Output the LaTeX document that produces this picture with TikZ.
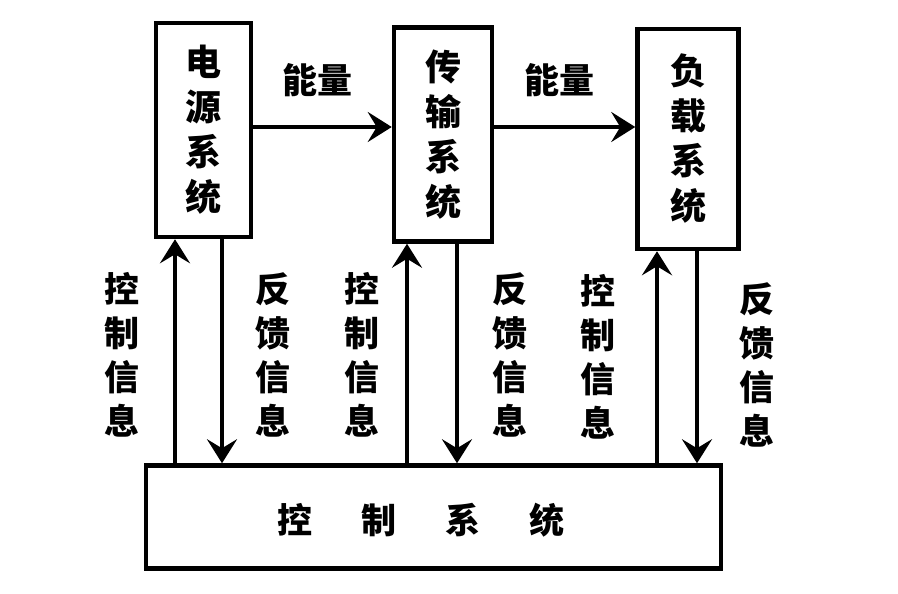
\documentclass[tikz,border=0pt]{standalone}
\usepackage{fontspec}
\setmainfont{Noto Sans CJK SC}
\usetikzlibrary{arrows.meta}
\begin{document}
\begin{tikzpicture}[x=1pt,y=-1pt,
  box/.style={draw,line width=4.5pt,inner sep=0pt,align=center,
    font=\fontsize{36}{45}\selectfont\bfseries},
  lbl/.style={inner sep=0pt,align=center,font=\fontsize{35}{44}\selectfont\bfseries},
  arr/.style={line width=4pt,-{Stealth[length=24pt,width=30pt,inset=9pt]}}]
\useasboundingbox (0,0) rectangle (898,594);
\node[box,minimum width=95pt,minimum height=214pt] (b1) at (203.5,130) {电\\源\\系\\统};
\node[box,minimum width=98pt,minimum height=214pt] (b2) at (443,134.5) {传\\输\\系\\统};
\node[box,minimum width=101pt,minimum height=220pt] (b3) at (688,139) {负\\载\\系\\统};
\node[box,minimum width=575pt,minimum height=103pt] (ctrl) at (433.5,517) {};
\node[lbl] (ct) at (421,520) {控\hspace{49pt}制\hspace{49pt}系\hspace{49pt}统};
% energy arrows
\coordinate (ey) at (0,127);
\draw[arr] (b1.east |- ey) -- (b2.west |- ey);
\draw[arr] (b2.east |- ey) -- (b3.west |- ey);
\node[lbl] (e1) at (317,80) {能量};
\node[lbl] (e2) at (559,80) {能量};
% vertical arrows
\coordinate (u1) at (175,0);
\coordinate (d1) at (222,0);
\coordinate (u2) at (407,0);
\coordinate (d2) at (457,0);
\coordinate (u3) at (657,0);
\coordinate (d3) at (697,0);
\draw[arr] (u1 |- ctrl.north) -- (u1 |- b1.south);
\draw[arr] (d1 |- b1.south) -- (d1 |- ctrl.north);
\draw[arr] (u2 |- ctrl.north) -- (u2 |- b2.south);
\draw[arr] (d2 |- b2.south) -- (d2 |- ctrl.north);
\draw[arr] (u3 |- ctrl.north) -- (u3 |- b3.south);
\draw[arr] (d3 |- b3.south) -- (d3 |- ctrl.north);
% labels
\node[lbl] (k1) at (122,355) {控\\制\\信\\息};
\node[lbl] (f1) at (273,355) {反\\馈\\信\\息};
\node[lbl] (k2) at (362,355) {控\\制\\信\\息};
\node[lbl] (f2) at (510,355) {反\\馈\\信\\息};
\node[lbl] (k3) at (598,357) {控\\制\\信\\息};
\node[lbl] (f3) at (757,365) {反\\馈\\信\\息};
\end{tikzpicture}
\end{document}
